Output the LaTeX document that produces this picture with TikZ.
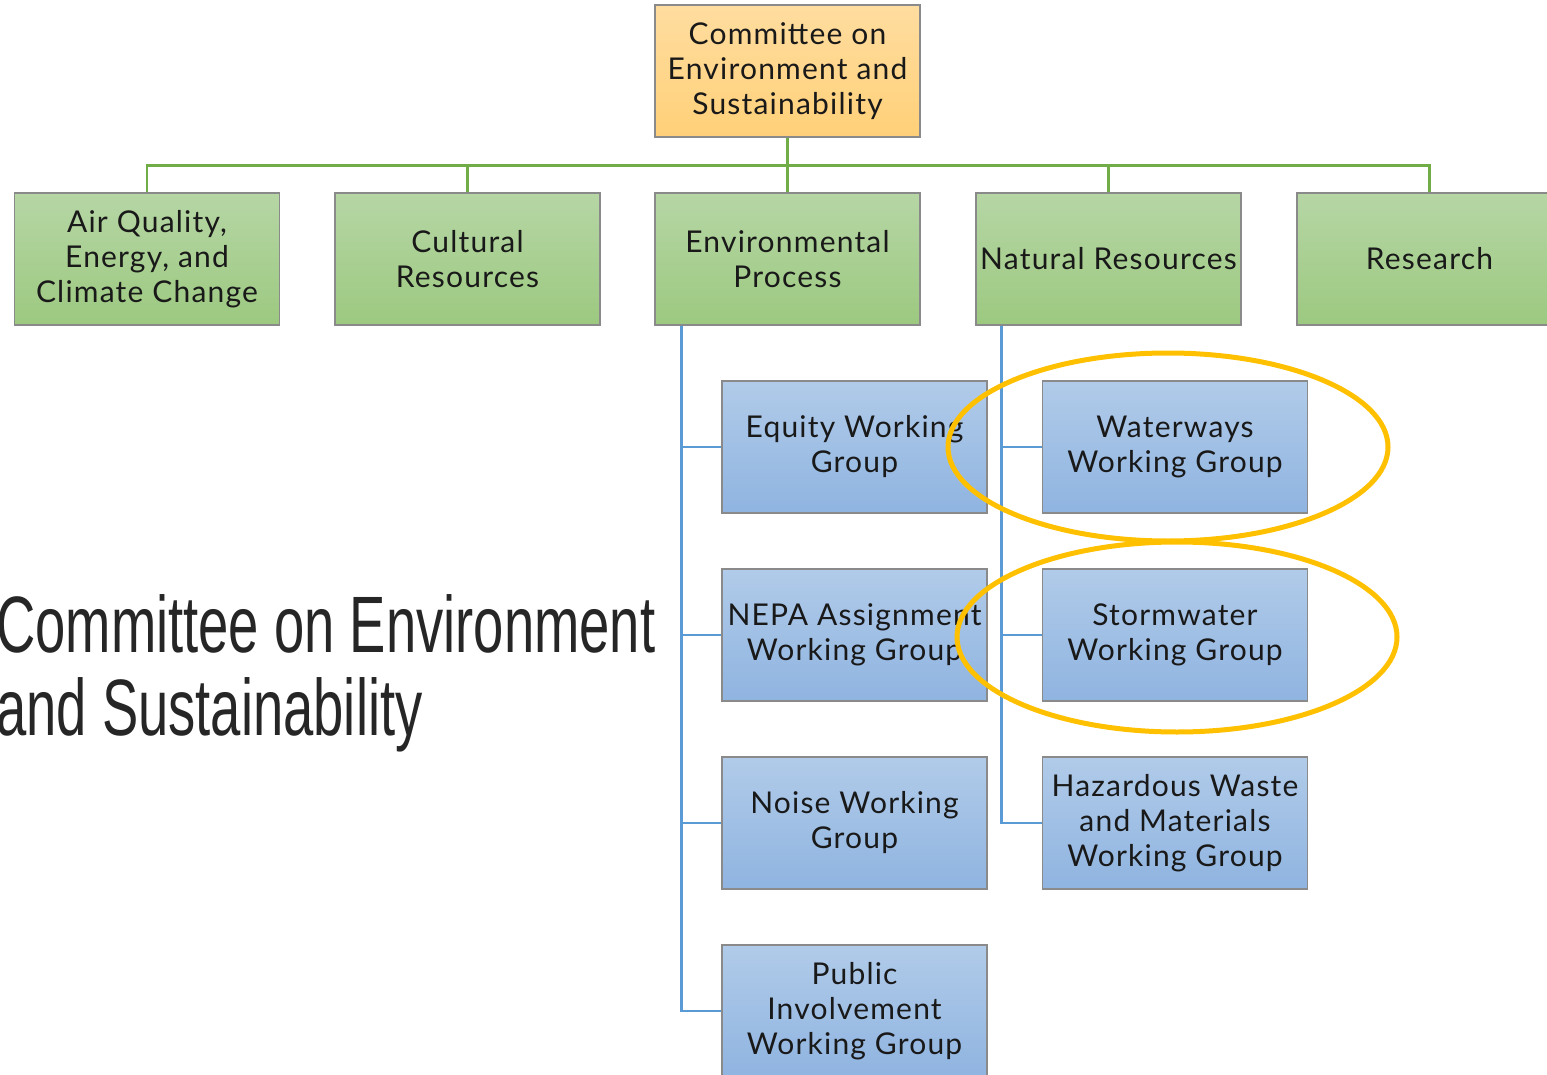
\documentclass[tikz,border=0pt]{standalone}
\usepackage{fontspec}
\setmainfont{Lato}[LetterSpace=4]
\newfontfamily\bigfont{Liberation Sans}
\usepackage{xcolor}
\usetikzlibrary{shapes.geometric}

\definecolor{boxline}{HTML}{8A8A8A}
\definecolor{greenline}{HTML}{70AD47}
\definecolor{blueline}{HTML}{5B9BD5}
\definecolor{ringcol}{HTML}{FFC000}
\definecolor{toptop}{HTML}{FFDDA0}
\definecolor{topbot}{HTML}{FFD078}
\definecolor{subtop}{HTML}{B6D6A5}
\definecolor{subbot}{HTML}{9CC980}
\definecolor{grptop}{HTML}{B1CBE9}
\definecolor{grpbot}{HTML}{8FB4E0}

\tikzset{
  unit/.style={draw=boxline, line width=1.3pt, minimum width=265, minimum height=132,
    inner sep=0pt, align=center, text=black!90, font=\fontsize{30}{35}\selectfont},
  topunit/.style={unit, top color=toptop, bottom color=topbot},
  subunit/.style={unit, top color=subtop, bottom color=subbot},
  group/.style={unit, top color=grptop, bottom color=grpbot}
}

\begin{document}
\begin{tikzpicture}[x=1pt,y=-1pt]
    \useasboundingbox (0,0) rectangle (1547,1075);
    \clip (0,0) rectangle (1547,1075);

    \path (787.5, 71) node [topunit] (ces) {Committee on\\Environment and\\Sustainability};

    \path (147, 259) node [subunit] (aq) {Air Quality,\\Energy, and\\Climate Change};
    \path (467.5, 259) node [subunit] (cr) {Cultural\\Resources};
    \path (787.5, 259) node [subunit] (ep) {Environmental\\Process};
    \path (1108.5, 259) node [subunit] (nr) {Natural Resources};
    \path (1429.5, 259) node [subunit] (rs) {Research};

    \foreach \n in {aq,cr,ep,nr,rs}
	\draw [greenline, line width=2.6pt] (ces.south) -- ++(0,28) -| (\n.north);

    \path (854.5, 447) node [group] (eq) {Equity Working\\Group};
    \path (854.5, 635) node [group] (ne) {NEPA Assignment\\Working Group};
    \path (854.5, 823) node [group] (no) {Noise Working\\Group};
    \path (854.5, 1011) node [group] (pi) {Public\\Involvement\\Working Group};
    \foreach \n in {eq,ne,no,pi}
	\draw [blueline, line width=2.6pt] ([xshift=27]ep.south west) |- (\n.west);

    \path (1175, 447) node [group] (ww) {Waterways\\Working Group};
    \path (1175, 635) node [group] (sw) {Stormwater\\Working Group};
    \path (1175, 823) node [group] (hw) {Hazardous Waste\\and Materials\\Working Group};
    \foreach \n in {ww,sw,hw}
	\draw [blueline, line width=2.6pt] ([xshift=26]nr.south west) |- (\n.west);

    % highlight rings
    \draw [ringcol, line width=5pt] (1168, 447) ellipse [x radius=220, y radius=94];
    \draw [ringcol, line width=5pt] (1177, 637) ellipse [x radius=220, y radius=95];

    \path (-4, 652) node [anchor=base west, inner sep=0pt, text=black!85,
	font=\bigfont\fontsize{80}{83}\selectfont] (tt)
	{\scalebox{0.68}[1]{Committee on Environment}};
    \path (-4, 735) node [anchor=base west, inner sep=0pt, text=black!85,
	font=\bigfont\fontsize{80}{83}\selectfont] (tt2)
	{\scalebox{0.68}[1]{and Sustainability}};
\end{tikzpicture}
\end{document}
